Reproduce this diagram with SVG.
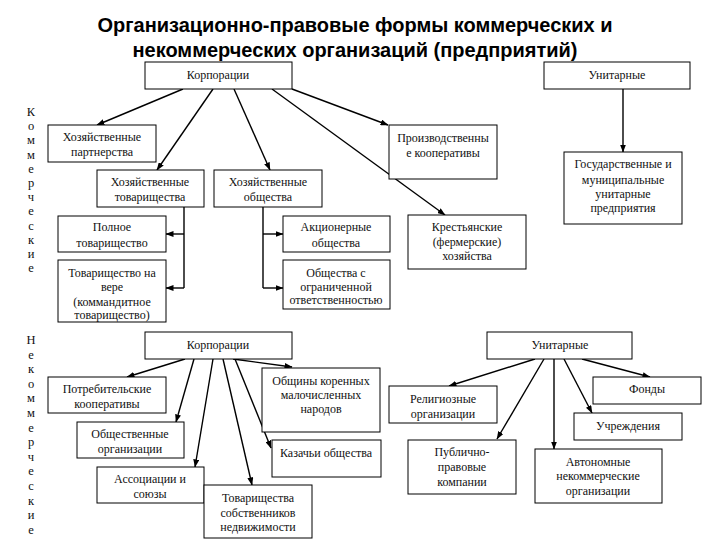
<svg xmlns="http://www.w3.org/2000/svg" width="720" height="540" viewBox="0 0 720 540">
<style>
.bx{fill:#fff;stroke:#000;stroke-width:1}
text.t{font-family:'Liberation Serif','DejaVu Serif','Times New Roman',serif;font-size:12px;fill:#111;text-anchor:middle}
text.v{font-family:'Liberation Serif','DejaVu Serif','Times New Roman',serif;font-size:12.5px;fill:#111;text-anchor:middle}
text.ttl{font-family:'Liberation Sans',Arial,sans-serif;font-size:20px;font-weight:bold;fill:#000;text-anchor:middle}
.c{stroke:#000;stroke-width:1.4;fill:none}
.ca{stroke:#000;stroke-width:1.4;fill:none;marker-end:url(#ah)}
</style>
<defs>
<marker id="ah" markerWidth="8" markerHeight="6" refX="7.5" refY="3" orient="auto" markerUnits="userSpaceOnUse"><path d="M0,0 L8,3 L0,6 z" fill="#000"/></marker>
</defs>
<rect width="720" height="540" fill="#fff"/>
<g id="title">
<text class="ttl" x="355" y="32" textLength="515" lengthAdjust="spacing">Организационно-правовые формы коммерческих и</text>
<text class="ttl" x="355" y="57" textLength="445" lengthAdjust="spacing">некоммерческих организаций (предприятий)</text>
</g>
<g id="side-commercial">
<text class="v"><tspan x="31" y="116">К</tspan><tspan x="31" y="130.2">о</tspan><tspan x="31" y="144.4">м</tspan><tspan x="31" y="158.6">м</tspan><tspan x="31" y="172.8">е</tspan><tspan x="31" y="187">р</tspan><tspan x="31" y="201.2">ч</tspan><tspan x="31" y="215.4">е</tspan><tspan x="31" y="229.6">с</tspan><tspan x="31" y="243.8">к</tspan><tspan x="31" y="258">и</tspan><tspan x="31" y="272.2">е</tspan></text>
</g>
<g id="side-noncommercial">
<text class="v"><tspan x="31" y="344">Н</tspan><tspan x="31" y="358.6">е</tspan><tspan x="31" y="373.2">к</tspan><tspan x="31" y="387.8">о</tspan><tspan x="31" y="402.4">м</tspan><tspan x="31" y="417">м</tspan><tspan x="31" y="431.6">е</tspan><tspan x="31" y="446.2">р</tspan><tspan x="31" y="460.8">ч</tspan><tspan x="31" y="475.4">е</tspan><tspan x="31" y="490">с</tspan><tspan x="31" y="504.6">к</tspan><tspan x="31" y="519.2">и</tspan><tspan x="31" y="533.8">е</tspan></text>
</g>
<g id="connectors">
<path class="ca" d="M183,89 L97,125"/>
<path class="ca" d="M213,89 L157,170"/>
<path class="ca" d="M234,89 L270,170"/>
<path class="ca" d="M272,89 L445,215"/>
<path class="ca" d="M292,89 L388,125"/>
<path class="ca" d="M623,89 L623,152"/>
<path class="c" d="M184,207 V288"/>
<path class="ca" d="M184,234 H166"/>
<path class="ca" d="M184,288 H166"/>
<path class="c" d="M263,207 V288"/>
<path class="ca" d="M263,234 H283"/>
<path class="ca" d="M263,288 H283"/>
<path class="ca" d="M185,359 L127,377"/>
<path class="ca" d="M194,359 L176,422"/>
<path class="ca" d="M213,359 L195,467"/>
<path class="ca" d="M223,359 L252,485"/>
<path class="ca" d="M235,359 L271,448"/>
<path class="ca" d="M233,359 L292,367"/>
<path class="ca" d="M535,359 L449,386"/>
<path class="ca" d="M544,359 L497,439"/>
<path class="ca" d="M554,359 L554,449"/>
<path class="ca" d="M564,359 L592,413"/>
<path class="ca" d="M582,359 L650,377"/>
</g>
<g id="nodes">
<g id="n-corp-top"><rect class="bx" x="145" y="62" width="147" height="27"/><text class="t" x="218" y="79">Корпорации</text></g>
<g id="n-unit-top"><rect class="bx" x="544" y="62" width="146" height="27"/><text class="t" x="617" y="79">Унитарные</text></g>
<g id="n-partn"><rect class="bx" x="48" y="125" width="108" height="37"/><text class="t" x="102" y="141">Хозяйственные</text><text class="t" x="102" y="156">партнерства</text></g>
<g id="n-prodcoop"><rect class="bx" x="389" y="125" width="108" height="54"/><text class="t" x="443" y="142">Производственны</text><text class="t" x="443" y="157">е кооперативы</text></g>
<g id="n-gos"><rect class="bx" x="564" y="152" width="118" height="72"/><text class="t" x="623" y="168">Государственные и</text><text class="t" x="623" y="184">муниципальные</text><text class="t" x="623" y="198">унитарные</text><text class="t" x="623" y="212">предприятия</text></g>
<g id="n-tov"><rect class="bx" x="97" y="170" width="107" height="37"/><text class="t" x="150" y="186">Хозяйственные</text><text class="t" x="150" y="201">товарищества</text></g>
<g id="n-obsh"><rect class="bx" x="214" y="170" width="108" height="37"/><text class="t" x="268" y="186">Хозяйственные</text><text class="t" x="268" y="201">общества</text></g>
<g id="n-polnoe"><rect class="bx" x="58" y="216" width="108" height="36"/><text class="t" x="112" y="231">Полное</text><text class="t" x="112" y="247">товарищество</text></g>
<g id="n-akc"><rect class="bx" x="283" y="216" width="107" height="36"/><text class="t" x="336" y="231">Акционерные</text><text class="t" x="336" y="247">общества</text></g>
<g id="n-krest"><rect class="bx" x="408" y="215" width="118" height="54"/><text class="t" x="467" y="231">Крестьянские</text><text class="t" x="467" y="246">(фермерские)</text><text class="t" x="467" y="260">хозяйства</text></g>
<g id="n-vera"><rect class="bx" x="58" y="260" width="108" height="62"/><text class="t" x="112" y="277">Товарищество на</text><text class="t" x="112" y="291">вере</text><text class="t" x="112" y="306">(коммандитное</text><text class="t" x="112" y="319">товарищество)</text></g>
<g id="n-ooo"><rect class="bx" x="283" y="260" width="107" height="49"/><text class="t" x="336" y="277">Общества с</text><text class="t" x="336" y="291">ограниченной</text><text class="t" x="336" y="304">ответственностью</text></g>
<g id="n-corp-bot"><rect class="bx" x="145" y="332" width="147" height="27"/><text class="t" x="218" y="349">Корпорации</text></g>
<g id="n-unit-bot"><rect class="bx" x="487" y="332" width="145" height="27"/><text class="t" x="560" y="349">Унитарные</text></g>
<g id="n-potreb"><rect class="bx" x="48" y="377" width="118" height="36"/><text class="t" x="107" y="393">Потребительские</text><text class="t" x="107" y="408">кооперативы</text></g>
<g id="n-obshiny"><rect class="bx" x="262" y="368" width="118" height="64"/><text class="t" x="321" y="385">Общины коренных</text><text class="t" x="321" y="399">малочисленных</text><text class="t" x="321" y="413">народов</text></g>
<g id="n-relig"><rect class="bx" x="389" y="386" width="108" height="37"/><text class="t" x="443" y="403">Религиозные</text><text class="t" x="443" y="418">организации</text></g>
<g id="n-fondy"><rect class="bx" x="593" y="377" width="108" height="27"/><text class="t" x="647" y="393">Фонды</text></g>
<g id="n-uchr"><rect class="bx" x="574" y="413" width="108" height="27"/><text class="t" x="628" y="430">Учреждения</text></g>
<g id="n-obshorg"><rect class="bx" x="77" y="422" width="107" height="36"/><text class="t" x="130" y="438">Общественные</text><text class="t" x="130" y="453">организации</text></g>
<g id="n-kazach"><rect class="bx" x="272" y="440" width="109" height="37"/><text class="t" x="326" y="457">Казачьи общества</text></g>
<g id="n-publ"><rect class="bx" x="408" y="440" width="108" height="54"/><text class="t" x="462" y="456">Публично-</text><text class="t" x="462" y="471">правовые</text><text class="t" x="462" y="486">компании</text></g>
<g id="n-avt"><rect class="bx" x="535" y="449" width="127" height="54"/><text class="t" x="598" y="466">Автономные</text><text class="t" x="598" y="480">некоммерческие</text><text class="t" x="598" y="495">организации</text></g>
<g id="n-assoc"><rect class="bx" x="97" y="467" width="107" height="36"/><text class="t" x="150" y="483">Ассоциации и</text><text class="t" x="150" y="498">союзы</text></g>
<g id="n-tsn"><rect class="bx" x="204" y="485" width="108" height="53"/><text class="t" x="258" y="502">Товарищества</text><text class="t" x="258" y="517">собственников</text><text class="t" x="258" y="531">недвижимости</text></g>
</g>
</svg>
